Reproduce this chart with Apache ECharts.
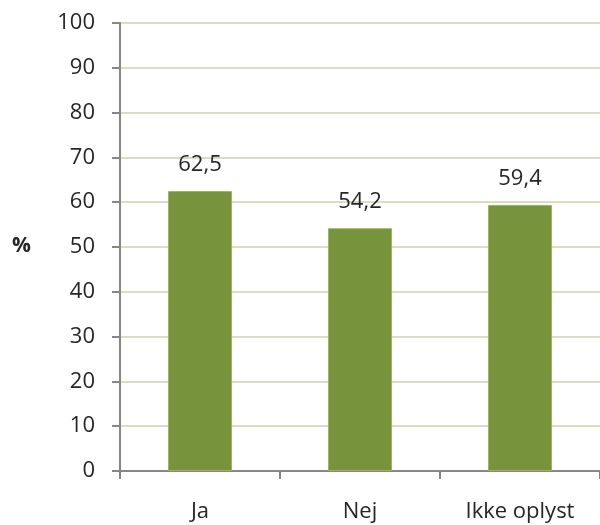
<!DOCTYPE html>
<html>
<head>
<meta charset="utf-8">
<script src="https://cdn.jsdelivr.net/npm/echarts@6/dist/echarts.min.js"></script>
<style>
  html, body { margin: 0; padding: 0; background: #ffffff; }
  #chart { width: 600px; height: 525px; }
</style>
</head>
<body>
<div id="chart"></div>
<script>
// Categories and percentages
const categories = ['Ja', 'Nej', 'Ikke oplyst'];
const values = [62.5, 54.2, 59.4];
const yTicks = [0, 10, 20, 30, 40, 50, 60, 70, 80, 90, 100];

const FONT = '"Open Sans", "Liberation Sans", sans-serif';
const TEXT = '#262626';

const chart = echarts.init(document.getElementById('chart'), null, { renderer: 'canvas' });

chart.setOption({
  animation: false,
  backgroundColor: '#ffffff',
  grid: { left: 120, top: 23, width: 483, height: 448, containLabel: false },
  graphic: [{
    type: 'text',
    left: 12,
    top: 236,
    style: { text: '%', font: 'bold 21px ' + FONT, fill: TEXT }
  }],
  xAxis: {
    type: 'category',
    data: categories,
    boundaryGap: true,
    axisLine: { lineStyle: { color: '#868686', width: 2 } },
    axisTick: { show: true, length: 8, alignWithLabel: false, lineStyle: { color: '#868686', width: 2 } },
    axisLabel: { color: TEXT, fontFamily: FONT, fontSize: 22, margin: 30 }
  },
  yAxis: {
    type: 'value',
    min: yTicks[0],
    max: yTicks[yTicks.length - 1],
    interval: 10,
    axisLine: { show: true, lineStyle: { color: '#868686', width: 2 } },
    axisTick: { show: true, length: 8, lineStyle: { color: '#868686', width: 2 } },
    axisLabel: { color: TEXT, fontFamily: FONT, fontSize: 22, margin: 25 },
    splitLine: { show: true, lineStyle: { color: '#DCDBC6', width: 2 } }
  },
  series: [{
    type: 'bar',
    data: values,
    barWidth: '40%',
    itemStyle: { color: '#77933C', borderColor: '#9CB565', borderWidth: 1 },
    label: {
      show: true,
      position: 'top',
      distance: 15,
      color: TEXT,
      fontFamily: FONT,
      fontSize: 22,
      formatter: p => p.value.toFixed(1).replace('.', ',')
    }
  }]
});
</script>
</body>
</html>
